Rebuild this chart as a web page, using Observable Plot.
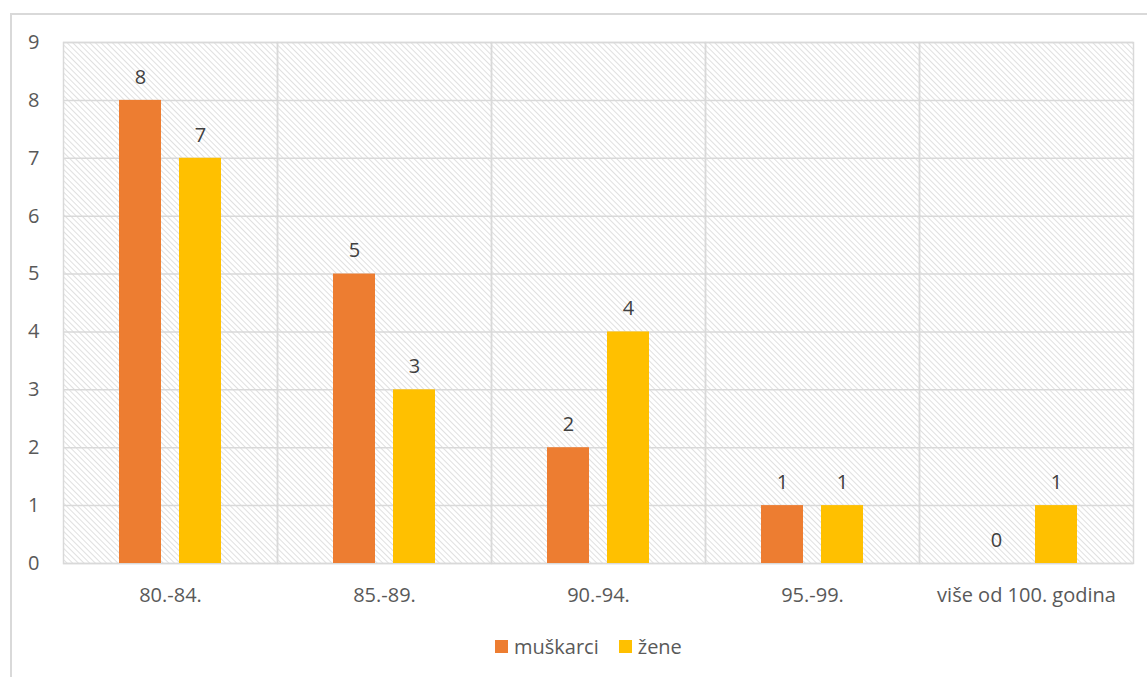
<!DOCTYPE html>
<html>
<head>
<meta charset="utf-8">
<script src="https://cdn.jsdelivr.net/npm/d3@7"></script>
<script src="https://cdn.jsdelivr.net/npm/@observablehq/plot@0.6"></script>
<style>
  html, body { margin: 0; padding: 0; background: #fff; }
  body { width: 1147px; height: 677px; overflow: hidden; position: relative; font-family: "Open Sans", sans-serif; }
  #border { position: absolute; left: 10px; top: 13px; width: 1200px; height: 700px; border-top: 2px solid #d9d9d9; border-left: 2px solid #d9d9d9; box-sizing: border-box; }
  #chart { position: absolute; left: 0; top: 0; }
  #legend { position: absolute; left: 495px; top: 633px; display: flex; align-items: center; font-size: 20px; color: #595959; }
  #legend .item { display: flex; align-items: center; margin-right: 20px; }
  #legend .sw { width: 13px; height: 13px; margin-right: 6px; }
</style>
</head>
<body>
<div id="border"></div>
<div id="chart"></div>
<div id="legend"></div>
<script>
const categories = ["80.-84.", "85.-89.", "90.-94.", "95.-99.", "više od 100. godina"];
const series = ["muškarci", "žene"];
const muskarci = [8, 5, 2, 1, 0];
const zene = [7, 3, 4, 1, 1];
const colors = ["#ED7D31", "#FFC000"];
const yTicks = [0, 1, 2, 3, 4, 5, 6, 7, 8, 9];

const data = [];
categories.forEach((c, i) => {
  data.push({category: c, series: series[0], value: muskarci[i]});
  data.push({category: c, series: series[1], value: zene[i]});
});

const plot = Plot.plot({
  width: 1147,
  height: 615,
  marginLeft: 62,
  marginRight: 14,
  marginTop: 42,
  marginBottom: 52,
  style: {fontFamily: "'Open Sans', sans-serif", fontSize: "20px", color: "#595959", background: "transparent"},
  fx: {domain: categories, padding: 0, label: null, axis: "bottom", tickSize: 0, tickPadding: 24},
  x: {domain: series, paddingInner: 0.3, paddingOuter: 0.933, axis: null},
  y: {domain: [0, 9], ticks: yTicks, tickSize: 0, tickPadding: 24, label: null, tickFormat: d => String(d)},
  color: {domain: series, range: colors},
  marks: [
    Plot.frame({fill: "url(#hatch)", stroke: null}),
    Plot.gridY(yTicks, {stroke: "#d9d9d9", strokeOpacity: 1, strokeWidth: 1.5}),
    Plot.frame({stroke: "#d9d9d9", strokeWidth: 1.5, fill: null}),
    Plot.barY(data, {fx: "category", x: "series", y: "value", fill: "series"}),
    Plot.text(data, {fx: "category", x: "series", y: "value", text: d => String(d.value), dy: -23, fill: "#404040", fontSize: 20})
  ]
});

const svgNS = "http://www.w3.org/2000/svg";
const defs = document.createElementNS(svgNS, "defs");
defs.innerHTML = `<pattern id="hatch" patternUnits="userSpaceOnUse" width="4" height="4" patternTransform="rotate(-45)">
  <rect width="4" height="4" fill="#ffffff"></rect>
  <line x1="0" y1="0" x2="0" y2="4" stroke="#d9d9d9" stroke-width="1.6"></line>
</pattern>`;
plot.insertBefore(defs, plot.firstChild);
document.getElementById("chart").appendChild(plot);

const legend = document.getElementById("legend");
series.forEach((s, i) => {
  const item = document.createElement("div");
  item.className = "item";
  item.innerHTML = `<span class="sw" style="background:${colors[i]}"></span><span>${s}</span>`;
  legend.appendChild(item);
});
</script>
</body>
</html>
